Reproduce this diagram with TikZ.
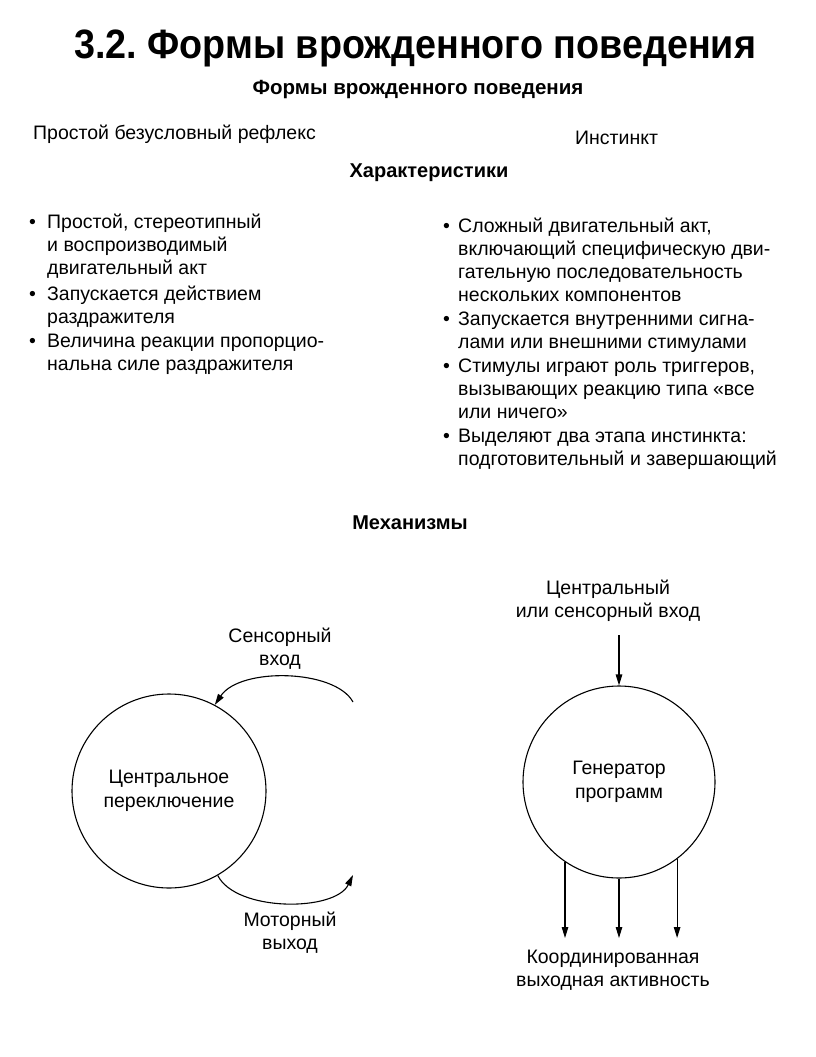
\documentclass[tikz,border=0pt]{standalone}
\usepackage{fontspec}
\usepackage{graphicx}
\setmainfont{Liberation Sans}
\usetikzlibrary{arrows.meta}
\newcommand{\myLines}[1]{\begin{tabular}[t]{@{}l@{}}#1\end{tabular}}
\begin{document}
\frenchspacing
\begin{tikzpicture}[x=1pt,y=-1pt,
  every node/.style={inner sep=0pt},
  reg/.style={font=\fontsize{19.5}{23}\selectfont, align=left},
  regc/.style={font=\fontsize{19.5}{23}\selectfont, align=center},
  head/.style={font=\bfseries\fontsize{20}{24}\selectfont},
  bul/.style={font=\fontsize{19.5}{23}\selectfont},
  ring/.style={draw, circle, line width=1.1pt, align=center, font=\fontsize{19.5}{24}\selectfont},
  arr/.style={line width=1.1pt, -{Triangle[length=11pt,width=6.5pt]}}]
\useasboundingbox (0,0) rectangle (816,1057);

\node[font=\bfseries\fontsize{41}{44}\selectfont] (title) at (415,48) {\scalebox{0.92}[1]{3.2. Формы врожденного поведения}};
\node[head, font=\bfseries\fontsize{20.5}{24}\selectfont] (sub) at (418,90) {Формы врожденного поведения};
\node[reg, anchor=base west] (refl) at (33,139) {Простой безусловный рефлекс};
\node[reg, anchor=base west] (inst) at (575,144) {Инстинкт};
\node[head] (char) at (429,173) {Характеристики};

% left bullets
\node[bul, anchor=base west] (lb1) at (29,228) {•};
\node[reg, anchor=base west] (l1) at (47,228) {\myLines{Простой, стереотипный\\и воспроизводимый\\двигательный акт}};
\node[bul, anchor=base west] (lb2) at (29,300) {•};
\node[reg, anchor=base west] (l2) at (47,300) {\myLines{Запускается действием\\раздражителя}};
\node[bul, anchor=base west] (lb3) at (29,347) {•};
\node[reg, anchor=base west] (l3) at (47,347) {\myLines{Величина реакции пропорцио-\\нальна силе раздражителя}};

% right bullets
\node[bul, anchor=base west] (rb1) at (443,232) {•};
\node[reg, anchor=base west] (r1) at (458,232) {\myLines{Сложный двигательный акт,\\включающий специфическую дви-\\гательную последовательность\\нескольких компонентов}};
\node[bul, anchor=base west] (rb2) at (443,325) {•};
\node[reg, anchor=base west] (r2) at (458,325) {\myLines{Запускается внутренними сигна-\\лами или внешними стимулами}};
\node[bul, anchor=base west] (rb3) at (443,372) {•};
\node[reg, anchor=base west] (r3) at (458,372) {\myLines{Стимулы играют роль триггеров,\\вызывающих реакцию типа «все\\или ничего»}};
\node[bul, anchor=base west] (rb4) at (443,442) {•};
\node[reg, anchor=base west] (r4) at (458,442) {\myLines{Выделяют два этапа инстинкта:\\подготовительный и завершающий}};

\node[head] (mech) at (410,523) {Механизмы};

% left mechanism
\node[ring, minimum size=194pt] (sw) at (169,791) {Центральное\\переключение};
\coordinate (sin) at (353,702);
\coordinate (mout) at (353,875);
\draw[arr] (sin) .. controls (335,669) and (240,667) .. (sw.62);
\draw[arr] (sw.-60) .. controls (236,912) and (335,912) .. (mout);
\node[regc] (sinl) at (280,649) {Сенсорный\\вход};
\node[regc] (moutl) at (290,933) {Моторный\\выход};

% right mechanism
\node[ring, minimum size=192pt] (gen) at (619,782) {Генератор\\программ};
\node[regc] (cinl) at (608,601) {Центральный\\или сенсорный вход};
\coordinate (cin) at (619,635);
\draw[arr] (cin) -- (gen.north);
\coordinate (obase) at (0,938);
\draw[arr] (gen.-124) -- (gen.-124 |- obase);
\draw[arr] (gen.south) -- (gen.south |- obase);
\draw[arr] (gen.-53) -- (gen.-53 |- obase);
\node[regc] (outl) at (613,970) {Координированная\\выходная активность};
\end{tikzpicture}
\end{document}
